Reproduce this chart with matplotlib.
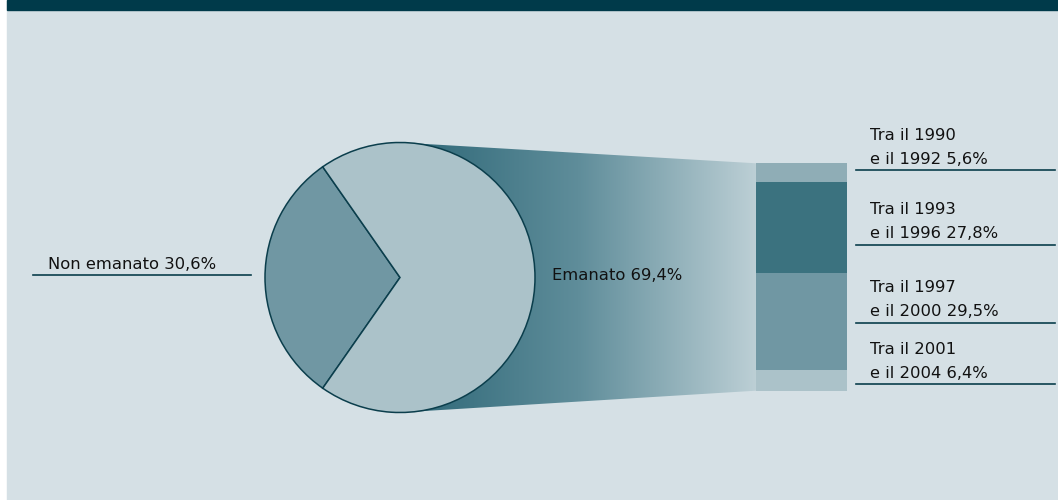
import numpy as np
import matplotlib
matplotlib.use("Agg")
import matplotlib.pyplot as plt
from matplotlib.patches import Rectangle, Polygon
from matplotlib.colors import LinearSegmentedColormap

plt.rcParams['font.family'] = ['DejaVu Sans']

# quote emanate / non emanate
pie_labels = ["Non emanato", "Emanato"]
pie_values = [30.6, 69.4]

# ripartizione degli emanati per periodo
periodi = ["Tra il 1990\ne il 1992", "Tra il 1993\ne il 1996",
           "Tra il 1997\ne il 2000", "Tra il 2001\ne il 2004"]
periodi_values = [5.6, 27.8, 29.5, 6.4]

BG = "#d5e0e5"
DARK = "#003a4a"
EDGE = "#0b3e4c"
TXT = "#111111"
pie_colors = ["#7097a3", "#abc2c9"]
bar_colors = ["#8fadb6", "#3b727f", "#7097a3", "#abc2c9"]

W, H = 1058, 500
fig = plt.figure(figsize=(W / 100, H / 100), dpi=100, facecolor="white")
ax = fig.add_axes([0, 0, 1, 1])

# sfondo e fascia superiore
ax.add_patch(Rectangle((7, 0), W - 7, H, color=BG, zorder=0))
ax.add_patch(Rectangle((7, 0), W - 7, 10, color=DARK, zorder=1))

# torta
cx, cy, r = 400, 277.5, 135
start = 180 - pie_values[0] / 100 * 180
wedges, _ = ax.pie(pie_values, colors=pie_colors, startangle=start, center=(cx, cy),
                   radius=r, wedgeprops=dict(edgecolor=EDGE, linewidth=1.1), frame=True)
for w in wedges:
    w.set_zorder(3)

# barra impilata a destra
bar_x0, bar_w = 756, 91
bar_top, bar_bottom = 163.3, 390.7
scale = (bar_bottom - bar_top) / sum(periodi_values)
bottoms = bar_top + scale * np.concatenate([[0], np.cumsum(periodi_values)[:-1]])
ax.bar([bar_x0 + bar_w / 2] * 4, [v * scale for v in periodi_values], bottom=bottoms,
       width=bar_w, color=bar_colors, zorder=3)

# raccordo sfumato tra torta e barra
poly = Polygon([(cx, cy - r), (bar_x0, bar_top), (bar_x0, bar_bottom), (cx, cy + r)],
               closed=True, facecolor="none", edgecolor="none")
ax.add_patch(poly)
cmap = LinearSegmentedColormap.from_list("raccordo", ["#2c6676", "#5f8d9a", "#bccfd5"])
grad = np.linspace(0, 1, 256).reshape(1, -1)
im = ax.imshow(grad, cmap=cmap, extent=(cx, bar_x0, cy + r, cy - r),
               aspect="auto", zorder=1.5)
im.set_clip_path(poly)

# etichette
fs = 11.8
ax.plot([33, 251], [275, 275], color=EDGE, lw=1.2, zorder=4)
ax.text(48, 269, f"{pie_labels[0]} {pie_values[0]:.1f}%".replace(".", ","),
        fontsize=fs, color=TXT, va="baseline", zorder=5)
ax.text(552, 275, f"{pie_labels[1]} {pie_values[1]:.1f}%".replace(".", ","),
        fontsize=fs, color=TXT, va="center", zorder=5)

line_ys = [170, 245, 322.7, 384]
for lab, val, ly in zip(periodi, periodi_values, line_ys):
    riga1, riga2 = lab.split("\n")
    ax.plot([856, 1055], [ly, ly], color=EDGE, lw=1.2, zorder=4)
    ax.text(870, ly - 30.5, riga1, fontsize=fs, color=TXT, va="baseline")
    ax.text(870, ly - 6.5, f"{riga2} {val:.1f}%".replace(".", ","),
            fontsize=fs, color=TXT, va="baseline")

ax.set_xlim(0, W)
ax.set_ylim(H, 0)
ax.set_axis_off()
fig.savefig("out.png", dpi=100, facecolor="white")
